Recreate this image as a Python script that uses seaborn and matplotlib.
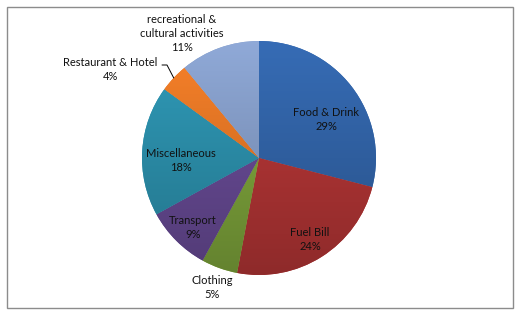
import numpy as np
import matplotlib
matplotlib.use("Agg")
import matplotlib.pyplot as plt
import seaborn as sns
from matplotlib.colors import to_rgb
from matplotlib.patches import Rectangle

# ---- data ----
categories = ["Food & Drink", "Fuel Bill", "Clothing", "Transport",
              "Miscellaneous", "Restaurant & Hotel",
              "recreational &\ncultural activities"]
shares = [29, 24, 5, 9, 18, 4, 11]
colors = ["#3264A8", "#B23535", "#7DA33B", "#674A94",
          "#2C90AC", "#E77826", "#859DC8"]

# label placement (polar, in units of pie radius): angle in degrees, distance
label_angle = [29.6, -57.8, -109.9, -133.7, 182.0, 149.3, 121.8]
label_dist = [0.66, 0.82, 1.18, 0.82, 0.67, 1.48, 1.25]

sns.set_theme(style="white")
plt.rcParams['font.family'] = ['Lato', 'DejaVu Sans']

W, H = 532, 322
fig = plt.figure(figsize=(W / 100, H / 100), dpi=100)
fig.patch.set_facecolor("white")
ax = fig.add_axes([0, 0, 1, 1])

cx, cy, R = 259, 158, 117  # pixel centre and radius

wedges, _ = ax.pie(shares, colors=colors, startangle=90, counterclock=False,
                   wedgeprops=dict(linewidth=0))

# vertical gradient over each wedge (lighter top, darker bottom)
t = np.linspace(0, 1, 256)[:, None, None]
for w, c in zip(wedges, colors):
    rgb = np.array(to_rgb(c))
    top = np.clip(rgb * 1.08, 0, 1)
    bot = rgb * 0.80
    img = (1 - t) * top + t * bot
    im = ax.imshow(img, extent=(-1, 1, -1, 1), origin='upper', aspect='auto',
                   interpolation='bilinear', zorder=w.get_zorder() + 0.1)
    im.set_clip_path(w)

# labels
for i, (name, v) in enumerate(zip(categories, shares)):
    a = np.deg2rad(label_angle[i])
    x, y = label_dist[i] * np.cos(a), label_dist[i] * np.sin(a)
    ax.text(x, y, f"{name}\n{v}%", ha='center', va='center',
            multialignment='center', fontsize=8.0, color='#111111',
            linespacing=1.35, zorder=5)

# leader line for Restaurant & Hotel
w = wedges[5]
mid = np.deg2rad((w.theta1 + w.theta2) / 2)
ex, ey = np.cos(mid), np.sin(mid)
lx = (167 - cx) / R
ly = (cy - 65) / R
ax.plot([(162 - cx) / R, lx, ex], [ly, ly, ey], color='black', lw=0.7,
        zorder=6)

ax.set_xlim(-cx / R, (W - cx) / R)
ax.set_ylim((cy - H) / R, cy / R)
ax.set_aspect('auto')
ax.axis('off')

fig.patches.append(Rectangle((7 / W, 1 - 308 / H), (513 - 7) / W, (308 - 7) / H,
                             transform=fig.transFigure, fill=False,
                             edgecolor="#8c8c8c", linewidth=1))

fig.savefig("out.png", dpi=100)
